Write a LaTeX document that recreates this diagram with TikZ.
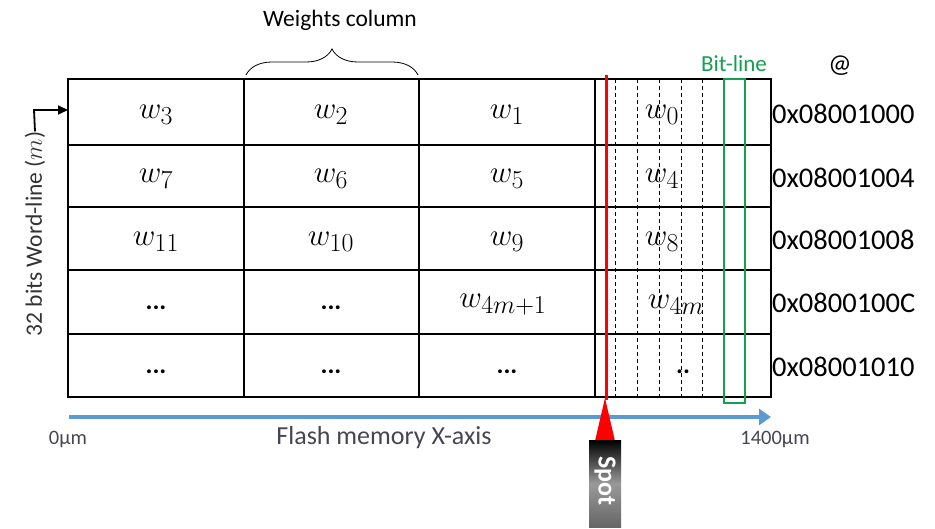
\documentclass[tikz,border=0pt]{standalone}
\usepackage{fontspec}
\setmainfont{Carlito}
\usetikzlibrary{arrows.meta,decorations.pathreplacing}
\definecolor{axisblue}{RGB}{91,155,213}
\definecolor{bitgreen}{RGB}{20,160,80}
\definecolor{labelgray}{RGB}{70,70,80}
\begin{document}
\begin{tikzpicture}[x=1pt,y=-1pt,
  gridline/.style={line width=1.8pt,black},
  bitdash/.style={line width=0.6pt,dash pattern=on 4pt off 3pt},
  wlab/.style={font=\Huge,scale=1.25,inner sep=0pt},
  dots/.style={font=\fontsize{26}{28}\selectfont\bfseries,inner sep=0pt},
  addr/.style={font=\fontsize{28.5}{30}\selectfont,anchor=west,inner sep=0pt},
  axlab/.style={font=\fontsize{20.5}{22}\selectfont,text=labelgray,inner sep=0pt}]
\useasboundingbox (0,0) rectangle (935,529);
% dashed bit lines
\foreach \x in {615,637,659,681,702} \draw[bitdash] (\x,79) -- (\x,397);
% labels in cells
\foreach \y/\a/\b/\c/\d [count=\i] in {
  115/w_3/w_2/w_1/w_0,
  179/w_7/w_6/w_5/w_4,
  242/w_{11}/w_{10}/w_9/w_8} {
  \node[wlab] (r\i c1) at (156,\y) {$\a$};
  \node[wlab] (r\i c2) at (331,\y) {$\b$};
  \node[wlab] (r\i c3) at (507,\y) {$\c$};
  \node[wlab] (r\i c4) at (662,\y) {$\d$};
}
\node[dots] (r4c1) at (156,308) {...};
\node[dots] (r4c2) at (331,308) {...};
\node[wlab] (r4c3) at (503,305) {$w_{4m+1}$};
\node[wlab] (r4c4) at (676,305) {$w_{4m}$};
\node[dots] (r5c1) at (156,372) {...};
\node[dots] (r5c2) at (331,372) {...};
\node[dots] (r5c3) at (507,372) {...};
\node[dots] (r5c4) at (683,372) {..};
% grid
\draw[gridline] (68,79) rectangle (771,397);
\foreach \y in {145,207,270,334} \draw[gridline] (68,\y) -- (771,\y);
\foreach \x in {244,419,595} \draw[gridline] (\x,79) -- (\x,397);
% green bit-line box
\draw[bitgreen,line width=2pt] (724,79) rectangle (745,403);
\node[font=\fontsize{23}{25}\selectfont,text=bitgreen] (bitline) at (734,64) {Bit-line};
\node[font=\fontsize{26}{28}\selectfont] (at) at (840,66) {@};
% addresses
\node[addr] (a1) at (772,114) {0x08001000};
\node[addr] (a2) at (772,178) {0x08001004};
\node[addr] (a3) at (772,240) {0x08001008};
\node[addr] (a4) at (772,303) {0x0800100C};
\node[addr] (a5) at (772,367) {0x08001010};
% weights column brace
\draw[line width=0.8pt,decorate,decoration={brace,amplitude=26pt}] (246,75) -- (418,75);
\node[font=\fontsize{23.5}{25}\selectfont] (wc) at (340,20) {Weights column};
% word line label and arrow
\node[font=\fontsize{23.5}{25}\selectfont,text=black!80,rotate=90,inner sep=0pt] (wl) at (35,234) {32 bits Word-line ($m$)};
\coordinate (wltop) at (34,110);
\draw[line width=1.8pt,-{Triangle[length=10pt,width=9pt]}] (wl.east) -- (wltop) -- (68,110);
% axis
\coordinate (ax0) at (69,417);
\coordinate (ax1) at (771,417);
\draw[axisblue,line width=4.5pt,-{Triangle[length=12pt,width=16pt]}] (ax0) -- (ax1);
\node[axlab] (l0) at (68,439) {0µm};
\node[axlab,font=\fontsize{26}{28}\selectfont] (lx) at (384,438) {Flash memory X-axis};
\node[axlab] (l1) at (775,439) {1400µm};
% spot laser line
\draw[red,line width=3pt] (606,75) -- (606,400);
\fill[red] (605,398) -- (595,441) -- (615,441) -- cycle;
\shade[top color=black,bottom color=black!60,middle color=black!40] (589,440) rectangle (621,527);
\node[rotate=-90,text=white,font=\fontsize{26}{28}\selectfont\bfseries] (spot) at (605,481) {Spot};
\end{tikzpicture}
\end{document}
